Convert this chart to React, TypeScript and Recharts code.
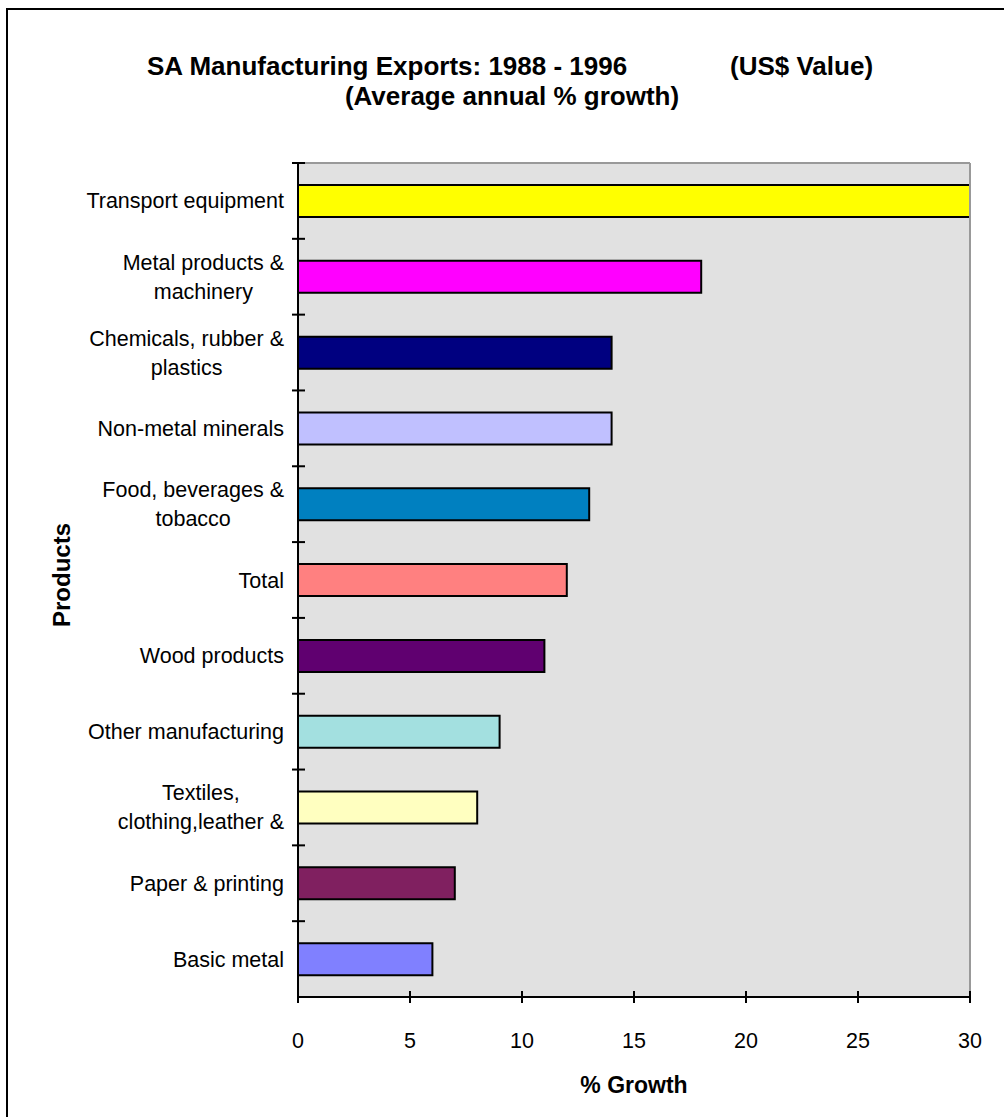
import { Bar, BarChart, CartesianGrid, Cell, XAxis, YAxis } from "recharts";

const categories = [
  "Transport equipment",
  "Metal products &\nmachinery",
  "Chemicals, rubber &\nplastics",
  "Non-metal minerals",
  "Food, beverages &\ntobacco",
  "Total",
  "Wood products",
  "Other manufacturing",
  "Textiles,\nclothing,leather &",
  "Paper & printing",
  "Basic metal",
];
const growth = [30, 18, 14, 14, 13, 12, 11, 9, 8, 7, 6];
const barColors = [
  "#FFFF00",
  "#FF00FF",
  "#000080",
  "#C0C0FF",
  "#0080C0",
  "#FF8080",
  "#600070",
  "#A3E0E0",
  "#FFFFC0",
  "#802060",
  "#8080FF",
];
const xTicks = [0, 5, 10, 15, 20, 25, 30];

const data = categories.map((name, i) => ({ name, value: growth[i] }));

const W = 1004;
const H = 1117;
const PLOT_LEFT = 298;
const PLOT_RIGHT = 970;
const PLOT_TOP = 163;
const PLOT_BOTTOM = 997;
const BAND = (PLOT_BOTTOM - PLOT_TOP) / categories.length;
const FONT = "'Liberation Sans', Arial, sans-serif";
const LABEL_SIZE = 21.5;

let ctx: CanvasRenderingContext2D | null = null;
function textWidth(s: string) {
  if (!ctx) ctx = document.createElement("canvas").getContext("2d");
  if (!ctx) return s.length * LABEL_SIZE * 0.5;
  ctx.font = `${LABEL_SIZE}px ${FONT}`;
  return ctx.measureText(s).width;
}

function CategoryTick(props: any) {
  const { y, payload } = props;
  const lines: string[] = String(payload.value).split("\n");
  const maxW = Math.max(...lines.map(textWidth));
  const cx = 284 - maxW / 2;
  const lh = 29;
  const top = y - ((lines.length - 1) * lh) / 2;
  return (
    <g>
      <line x1={PLOT_LEFT - 6} x2={PLOT_LEFT + 7} y1={y - BAND / 2} y2={y - BAND / 2} stroke="#000" strokeWidth={2} />
      <text textAnchor="middle" fontFamily={FONT} fontSize={LABEL_SIZE} fill="#000">
        {lines.map((l, i) => (
          <tspan key={i} x={cx} y={top + i * lh} dy="0.35em">
            {l}
          </tspan>
        ))}
      </text>
    </g>
  );
}

function ValueTick(props: any) {
  const { x, payload } = props;
  return (
    <g>
      <line x1={x} x2={x} y1={PLOT_BOTTOM - 6} y2={PLOT_BOTTOM + 6} stroke="#000" strokeWidth={2} />
      <text x={x} y={PLOT_BOTTOM + 51} textAnchor="middle" fontFamily={FONT} fontSize={LABEL_SIZE} fill="#000">
        {payload.value}
      </text>
    </g>
  );
}

export default function App() {
  return (
    <div style={{ position: "absolute", left: 0, top: 0, width: W, height: H, overflow: "hidden", background: "#fff" }}>
      <div
        style={{
          position: "absolute",
          left: 6,
          top: 8,
          width: W + 20,
          height: H + 20,
          border: "2px solid #000",
          boxSizing: "border-box",
        }}
      />
      <div style={{ position: "absolute", left: 0, top: 0 }}>
        <BarChart
          width={W}
          height={H}
          data={data}
          layout="vertical"
          margin={{ top: PLOT_TOP - 1, right: W - PLOT_RIGHT - 1, bottom: H - PLOT_BOTTOM - 1, left: 8 }}
        >
          <CartesianGrid fill="#E1E1E1" horizontal={false} vertical={false} />
          <XAxis
            type="number"
            domain={[0, 30]}
            ticks={xTicks}
            height={1}
            axisLine={{ stroke: "#000", strokeWidth: 2 }}
            tickLine={false}
            tick={<ValueTick />}
            interval={0}
          />
          <XAxis
            xAxisId="top"
            orientation="top"
            type="number"
            domain={[0, 30]}
            height={1}
            tick={false}
            tickLine={false}
            axisLine={{ stroke: "#999", strokeWidth: 2 }}
          />
          <YAxis
            type="category"
            dataKey="name"
            width={PLOT_LEFT - 8}
            axisLine={{ stroke: "#000", strokeWidth: 2 }}
            tickLine={false}
            tick={<CategoryTick />}
            interval={0}
          />
          <YAxis
            yAxisId="right"
            orientation="right"
            type="category"
            dataKey="name"
            width={1}
            tick={false}
            tickLine={false}
            axisLine={{ stroke: "#999", strokeWidth: 2 }}
          />
          <Bar dataKey="value" barSize={32} stroke="#000" strokeWidth={2} isAnimationActive={false}>
            {data.map((d, i) => (
              <Cell key={d.name} fill={barColors[i]} />
            ))}
          </Bar>
        </BarChart>
      </div>
      <svg
        width={W}
        height={H}
        style={{ position: "absolute", left: 0, top: 0, pointerEvents: "none" }}
        fontFamily={FONT}
        fontWeight="bold"
      >
        <text x={147} y={75} fontSize={26}>
          SA Manufacturing Exports: 1988 - 1996
        </text>
        <text x={730} y={75} fontSize={26}>
          (US$ Value)
        </text>
        <text x={512} y={105} fontSize={26} textAnchor="middle">
          (Average annual % growth)
        </text>
        <text x={(PLOT_LEFT + PLOT_RIGHT) / 2} y={1093} fontSize={23} textAnchor="middle">
          % Growth
        </text>
        <text
          x={0}
          y={0}
          fontSize={24}
          textAnchor="middle"
          transform={`translate(70 575) rotate(-90)`}
        >
          Products
        </text>
      </svg>
    </div>
  );
}
